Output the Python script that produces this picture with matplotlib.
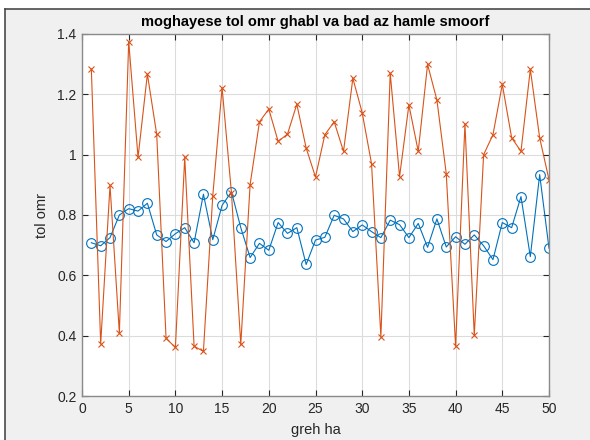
import matplotlib
matplotlib.use("Agg")
import matplotlib.pyplot as plt
from matplotlib.lines import Line2D

plt.rcParams['font.family'] = ['Liberation Sans', 'DejaVu Sans']

x = list(range(1, 51))
before = [0.708, 0.698, 0.725, 0.800, 0.821, 0.813, 0.839, 0.734, 0.712, 0.738,
          0.758, 0.708, 0.869, 0.718, 0.832, 0.877, 0.758, 0.659, 0.706, 0.683,
          0.775, 0.739, 0.758, 0.636, 0.717, 0.726, 0.799, 0.787, 0.745, 0.767,
          0.745, 0.725, 0.783, 0.768, 0.725, 0.772, 0.693, 0.787, 0.694, 0.728,
          0.703, 0.734, 0.698, 0.652, 0.775, 0.758, 0.861, 0.662, 0.934, 0.690]
after = [1.284, 0.373, 0.898, 0.409, 1.375, 0.991, 1.267, 1.067, 0.391, 0.361,
         0.991, 0.365, 0.348, 0.863, 1.222, 0.874, 0.371, 0.901, 1.109, 1.151,
         1.044, 1.068, 1.167, 1.022, 0.926, 1.066, 1.109, 1.011, 1.253, 1.139,
         0.970, 0.396, 1.270, 0.927, 1.165, 1.011, 1.299, 1.181, 0.937, 0.365,
         1.102, 0.401, 1.000, 1.066, 1.233, 1.056, 1.011, 1.283, 1.056, 0.917]

W, H = 590, 440
fig = plt.figure(figsize=(W / 100, H / 100), dpi=100, facecolor='#f0f0f0')
# screenshot frame
fig.patches.append(plt.Rectangle((0, (H - 9) / H), 1, 9 / H, transform=fig.transFigure,
                                 facecolor='white', edgecolor='none', zorder=0))
fig.patches.append(plt.Rectangle((0, 0), 5 / W, 1, transform=fig.transFigure,
                                 facecolor='white', edgecolor='none', zorder=0))
fig.lines.append(Line2D([5 / W, 1], [(H - 9) / H, (H - 9) / H], transform=fig.transFigure,
                        color='#4a4a4a', lw=1.2))
fig.lines.append(Line2D([5 / W, 5 / W], [0, (H - 9) / H], transform=fig.transFigure,
                        color='#4a4a4a', lw=1.2))

l, r, t, b = 82, 549, 34, 396
ax = fig.add_axes([l / W, (H - b) / H, (r - l) / W, (b - t) / H])
ax.set_facecolor('white')

ax.plot(x, before, color='#0072BD', lw=0.8, marker='o', markersize=7,
        markerfacecolor='none', markeredgewidth=0.8)
ax.plot(x, after, color='#D95319', lw=0.8, marker='x', markersize=5,
        markeredgewidth=0.8)

ax.set_xlim(0, 50)
ax.set_ylim(0.2, 1.4)
ax.set_xticks(range(0, 51, 5))
ax.set_yticks([0.2, 0.4, 0.6, 0.8, 1.0, 1.2, 1.4])
ax.set_yticklabels(['0.2', '0.4', '0.6', '0.8', '1', '1.2', '1.4'])
ax.grid(True, color='#dcdcdc', lw=0.8)
ax.set_axisbelow(True)
ax.tick_params(direction='in', length=4, color='#262626', labelsize=10,
               labelcolor='#262626', top=True, right=True, pad=4)
for s in ax.spines.values():
    s.set_color('#8a8a8a')
    s.set_linewidth(1.0)

ax.set_title('moghayese tol omr ghabl va bad az hamle smoorf', fontsize=10.5,
             fontweight='bold', color='black', pad=6)
ax.set_xlabel('greh ha', fontsize=10.5, color='#262626', labelpad=5)
ax.set_ylabel('tol omr', fontsize=10.5, color='#262626', labelpad=6)

fig.savefig('out.png', dpi=100, facecolor=fig.get_facecolor())
